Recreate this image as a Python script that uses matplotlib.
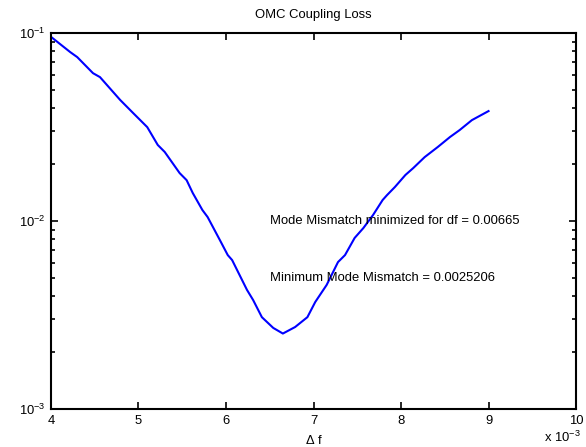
"""
plot.py

OMC coupling loss versus frequency offset, drawn in the MATLAB-like style of the reference.
"""

import numpy as np
import matplotlib
matplotlib.use("Agg")
import matplotlib.pyplot as plt
from matplotlib.ticker import LogLocator, FixedLocator, NullFormatter

# Data ----------------------------
# frequency offset in units of 1e-3
df_e3 = [4.00, 4.22, 4.30, 4.48, 4.56, 4.79, 4.94, 5.10, 5.22, 5.30,
         5.47, 5.55, 5.62, 5.73, 5.79, 5.93, 6.02, 6.07, 6.24, 6.31,
         6.41, 6.54, 6.65, 6.79, 6.93, 7.02, 7.15, 7.28, 7.36, 7.47,
         7.57, 7.68, 7.79, 7.84, 7.93, 8.05, 8.14, 8.27, 8.42, 8.56,
         8.67, 8.81, 9.00]
loss = [0.0955, 0.0792, 0.0745, 0.0612, 0.0583, 0.0441, 0.0375, 0.0316, 0.0254, 0.0233,
        0.0180, 0.0165, 0.0141, 0.01145, 0.0105, 0.00792, 0.00659, 0.00620, 0.00430, 0.00380,
        0.00308, 0.00270, 0.0025206, 0.00273, 0.00308, 0.00371, 0.00457, 0.00605, 0.00659, 0.00813,
        0.00918, 0.01076, 0.01294, 0.01374, 0.01517, 0.01758, 0.01914, 0.02188, 0.02477, 0.02800,
        0.03048, 0.03443, 0.03846]

x_ticks = [4, 5, 6, 7, 8, 9, 10]
annotations = ["Mode Mismatch minimized for df = 0.00665",
               "Minimum Mode Mismatch = 0.0025206"]
annotation_y = [0.01, 0.005]

# Style ---------------------------
plt.rcParams["font.family"] = ["Liberation Sans", "DejaVu Sans"]
plt.rcParams["mathtext.fontset"] = "custom"
plt.rcParams["mathtext.rm"] = "Liberation Sans"
plt.rcParams["mathtext.it"] = "Liberation Sans"
plt.rcParams["mathtext.default"] = "regular"
fs = 9.4

fig = plt.figure(figsize=(5.86, 4.47), dpi=100)
ax = fig.add_axes([0.087, 0.085, 0.896, 0.841])

ax.plot(df_e3, loss, color="#0000ff", lw=1.5)
ax.set_yscale("log")
ax.set_xlim(4, 10)
ax.set_ylim(1e-3, 1e-1)

ax.xaxis.set_major_locator(FixedLocator(x_ticks))
ax.set_xticklabels([str(t) for t in x_ticks])
ax.yaxis.set_major_locator(LogLocator(base=10))
ax.yaxis.set_minor_locator(LogLocator(base=10, subs=np.arange(2, 10)))
ax.yaxis.set_minor_formatter(NullFormatter())

ax.tick_params(which="both", direction="in", top=True, right=True, labelsize=fs,
               width=1.2, color="black")
ax.tick_params(which="major", length=5, pad=4)
ax.tick_params(which="minor", length=3)
for s in ax.spines.values():
    s.set_linewidth(1.5)

ax.set_title("OMC Coupling Loss", fontsize=fs, pad=11)
ax.set_xlabel("$\\Delta$ f", fontsize=fs, labelpad=5)

for txt, yv in zip(annotations, annotation_y):
    ax.text(6.5, yv, txt, fontsize=fs, va="center", ha="left")

fig.text(0.99, 0.004, "x 10$^{-3}$", fontsize=fs, ha="right", va="bottom")

fig.savefig("out.png", dpi=100)
